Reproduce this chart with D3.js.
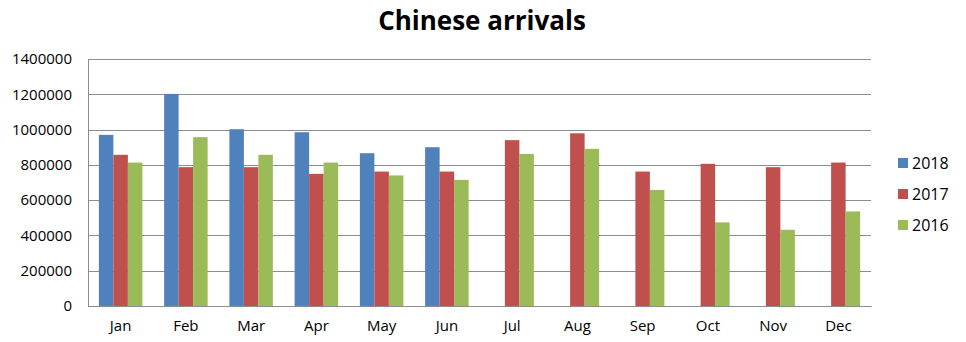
<!DOCTYPE html>
<html>
<head>
<meta charset="utf-8">
<script src="https://cdn.jsdelivr.net/npm/d3@7"></script>
<style>
  body { margin: 0; background: #fff; }
  text { font-family: "Open Sans", sans-serif; }
</style>
</head>
<body>
<div class="chart"></div>
<script>
// Chart data
var months = ["Jan", "Feb", "Mar", "Apr", "May", "Jun", "Jul", "Aug", "Sep", "Oct", "Nov", "Dec"];
var years = ["2018", "2017", "2016"];
var values2018 = [970000, 1202000, 1002000, 985000, 866000, 900000, null, null, null, null, null, null];
var values2017 = [857000, 787000, 787000, 749000, 762000, 762000, 940000, 979000, 762000, 806000, 787000, 813000];
var values2016 = [813000, 957000, 857000, 813000, 740000, 715000, 862000, 891000, 658000, 474000, 432000, 536000];
var yTicks = [0, 200000, 400000, 600000, 800000, 1000000, 1200000, 1400000];
var colors = ["#4F81BD", "#C0504D", "#9BBB59"];

var series = [values2018, values2017, values2016];

// SVG dimensions
var svgWidth = 966;
var svgHeight = 342;

var margin = { top: 59, right: 95, bottom: 36, left: 88 };
var width = svgWidth - margin.left - margin.right;
var height = svgHeight - margin.top - margin.bottom;

var svg = d3.select(".chart")
  .append("svg")
  .attr("width", svgWidth)
  .attr("height", svgHeight);

// Title
svg.append("text")
  .attr("x", 482)
  .attr("y", 30)
  .attr("text-anchor", "middle")
  .attr("font-size", "26px")
  .attr("font-weight", "bold")
  .attr("fill", "#000")
  .text("Chinese arrivals");

var chartGroup = svg.append("g")
  .attr("transform", `translate(${margin.left}, ${margin.top})`);

// Scales
var x0 = d3.scaleBand()
  .domain(months)
  .range([0, width])
  .paddingInner(0)
  .paddingOuter(0);

var x1 = d3.scaleBand()
  .domain(years)
  .range([x0.bandwidth() * 0.75 / 4.5, x0.bandwidth() * 3.75 / 4.5]);

var y = d3.scaleLinear()
  .domain([0, 1400000])
  .range([height, 0]);

// Gridlines
chartGroup.append("g")
  .selectAll("line")
  .data(yTicks)
  .enter()
  .append("line")
  .attr("x1", 0)
  .attr("x2", width)
  .attr("y1", d => Math.round(y(d)) + 0.5)
  .attr("y2", d => Math.round(y(d)) + 0.5)
  .attr("stroke", "#8c8c8c")
  .attr("stroke-width", 1);

// Left axis
var leftAxis = d3.axisLeft(y)
  .tickValues(yTicks)
  .tickSize(0)
  .tickPadding(16)
  .tickFormat(d3.format("d"));

var yAxisG = chartGroup.append("g").call(leftAxis);
yAxisG.select(".domain").attr("stroke", "#8c8c8c");
yAxisG.selectAll("text")
  .attr("font-size", "15px")
  .attr("fill", "#000")
  .attr("font-family", "Open Sans, sans-serif");

// Bars
months.forEach(function(m, i) {
  var g = chartGroup.append("g")
    .attr("transform", `translate(${x0(m)}, 0)`);
  var rows = years.map(function(yr, k) {
    return { year: yr, value: series[k][i], color: colors[k] };
  }).filter(d => d.value != null);
  g.selectAll("rect")
    .data(rows)
    .enter()
    .append("rect")
    .attr("x", d => x1(d.year))
    .attr("y", d => y(d.value))
    .attr("width", x1.bandwidth())
    .attr("height", d => height - y(d.value))
    .attr("fill", d => d.color);
});

// Bottom axis
var bottomAxis = d3.axisBottom(x0)
  .tickSize(0)
  .tickPadding(14);

var xAxisG = chartGroup.append("g")
  .attr("transform", `translate(0, ${height})`)
  .call(bottomAxis);
xAxisG.select(".domain").attr("stroke", "#8c8c8c");
xAxisG.selectAll("text")
  .attr("font-size", "15px")
  .attr("fill", "#000")
  .attr("font-family", "Open Sans, sans-serif");

// Legend
var legend = svg.append("g")
  .attr("transform", "translate(898, 163)");

legend.selectAll("rect")
  .data(years)
  .enter()
  .append("rect")
  .attr("x", 0)
  .attr("y", (d, i) => i * 31 - 5)
  .attr("width", 10)
  .attr("height", 10)
  .attr("fill", (d, i) => colors[i]);

legend.selectAll("text")
  .data(years)
  .enter()
  .append("text")
  .attr("x", 14)
  .attr("y", (d, i) => i * 31)
  .attr("dy", "0.35em")
  .attr("font-size", "16px")
  .attr("fill", "#000")
  .text(d => d);
</script>
</body>
</html>
